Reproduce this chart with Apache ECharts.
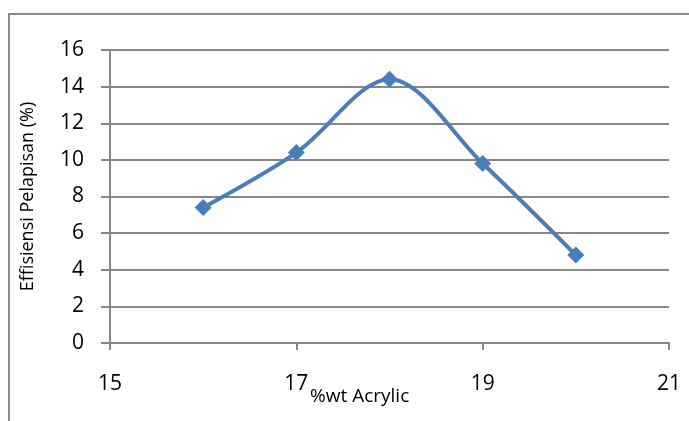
<!DOCTYPE html>
<html>
<head>
<meta charset="utf-8">
<script src="https://cdn.jsdelivr.net/npm/echarts@6/dist/echarts.min.js"></script>
<style>
  html, body { margin: 0; padding: 0; background: #fff; }
  #chart { width: 689px; height: 421px; }
</style>
</head>
<body>
<div id="chart"></div>
<script>
// Acrylic content (%wt) and coating efficiency (%)
const acrylicWt = [16, 17, 18, 19, 20];
const efficiency = [7.4, 10.4, 14.4, 9.8, 4.8];
const xTicks = [15, 17, 19, 21];
const yTicks = [0, 2, 4, 6, 8, 10, 12, 14, 16];

const fontFamily = '"Open Sans", "Liberation Sans", sans-serif';
const gridColor = '#878787';
const lineColor = '#4A7EBB';

const chart = echarts.init(document.getElementById('chart'));
chart.setOption({
  animation: false,
  backgroundColor: '#fff',
  graphic: [{
    type: 'rect',
    shape: { x: 9, y: 14, width: 700, height: 430 },
    style: { fill: 'none', stroke: '#8c8c8c', lineWidth: 2 },
    silent: true
  }, {
    type: 'text',
    left: 310, top: 387,
    style: { text: '%wt Acrylic', font: '19px ' + fontFamily, fill: '#000' }
  }],
  grid: { left: 110, right: 20, top: 50, bottom: 78 },
  xAxis: {
    type: 'value',
    min: xTicks[0], max: xTicks[xTicks.length - 1], interval: 2,
    axisLine: { show: true, lineStyle: { color: gridColor, width: 2 } },
    axisTick: { show: true, length: 7, lineStyle: { color: gridColor, width: 2 } },
    splitLine: { show: false },
    axisLabel: { color: '#000', fontSize: 21, fontFamily: fontFamily, margin: 31 }
  },
  yAxis: {
    type: 'value',
    min: yTicks[0], max: yTicks[yTicks.length - 1], interval: 2,
    name: 'Effisiensi Pelapisan (%)',
    nameLocation: 'middle', nameGap: 73,
    nameTextStyle: { color: '#000', fontSize: 18, fontFamily: fontFamily },
    axisLine: { show: true, lineStyle: { color: gridColor, width: 2 } },
    axisTick: { show: true, length: 9, inside: false, lineStyle: { color: gridColor, width: 2 } },
    splitLine: { show: true, lineStyle: { color: gridColor, width: 2 } },
    axisLabel: { color: '#000', fontSize: 21, fontFamily: fontFamily, margin: 26 }
  },
  series: [{
    type: 'line',
    data: acrylicWt.map((x, i) => [x, efficiency[i]]),
    smooth: 0.33,
    symbol: 'diamond',
    symbolSize: 17,
    itemStyle: { color: lineColor },
    lineStyle: { color: lineColor, width: 4 }
  }]
});
</script>
</body>
</html>
